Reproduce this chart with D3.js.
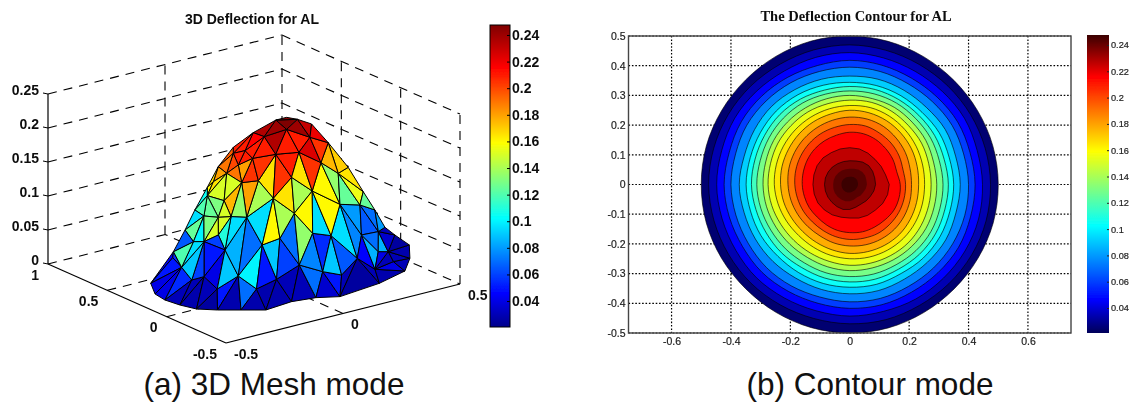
<!DOCTYPE html>
<html><head><meta charset="utf-8">
<script src="https://cdn.jsdelivr.net/npm/d3@7/dist/d3.min.js"></script>
<style>html,body{margin:0;padding:0;background:#fff;overflow:hidden}svg{display:block}</style>
</head><body><svg id="chart" width="1129" height="403"></svg>
<script>
// ---------- data ----------
const meshTitle = "3D Deflection for AL";
const contourTitle = "The Deflection Contour for AL";
const captionA = "(a) 3D Mesh mode";
const captionB = "(b) Contour mode";
const xTicks3d = [-0.5, 0, 0.5];
const yTicks3d = [-0.5, 0, 0.5, 1];
const zTicks3d = [0, 0.05, 0.1, 0.15, 0.2, 0.25];
const colorbarTicks = [0.04, 0.06, 0.08, 0.1, 0.12, 0.14, 0.16, 0.18, 0.2, 0.22, 0.24];
const contourXTicks = [-0.6, -0.4, -0.2, 0, 0.2, 0.4, 0.6];
const contourYTicks = [-0.5, -0.4, -0.3, -0.2, -0.1, 0, 0.1, 0.2, 0.3, 0.4, 0.5];
const colorDomain = [0.0205, 0.2475];

const meshNames = ["A0","A1","A2","A3","A4","A5","A6","A7","A8","A9","A10","A11","A12","A13",
 "B0","B1","E","B2","B3","B4","B5","B6","B7","B8","B9","B10","B11","B12",
 "C3","L13","L12","S1","C4","C5","C6","C7","V1","V2","V3","V4","R6","R5","R4","R3","R2","R1","R0",
 "T0","T1","T2","T3","T4","T5","T6","T7","T8","T9","L2","L1","S6","G","L3","L4","S5","L8","S4","L5","L6","L7","S3","S2",
 "L11","L10","P9","L14","M1","C2","C1","H1","H2","H3","H4","H5","H6","Ab"];
const meshX = [-.422,-.486,-.476,-.455,-.404,-.34,-.272,-.151,-.06,.012,.201,.346,.438,.518,
 -.33,-.365,-.415,-.361,-.401,-.264,-.294,-.18,-.03,-.007,.024,.169,.15,.247,
 -.349,-.355,-.384,-.5,-.217,-.128,-.008,.028,.115,.215,.294,.286,.519,.414,.305,.229,.181,.09,.055,
 .007,-.023,.04,-.025,-.074,-.089,.021,-.093,-.028,.031,-.102,-.109,-.114,-.108,-.104,-.145,-.169,-.17,-.169,-.12,-.174,-.189,-.238,-.283,
 -.25,-.219,-.18,-.254,-.194,-.104,-.088,-.014,.042,-.039,.161,.19,.222,-.476];
const meshY = [.288,.042,-.064,-.163,-.239,-.311,-.387,-.364,-.39,-.451,-.41,-.339,-.2,-.037,
 .284,.14,-.044,-.041,-.231,-.138,-.351,-.295,-.191,-.343,-.441,-.287,-.474,-.437,
 -.194,-.029,.003,-.057,-.247,-.221,-.26,-.344,-.429,-.373,-.301,-.234,.087,-.037,-.167,-.219,-.187,-.198,-.127,
 -.011,.02,-.038,-.074,.111,-.012,-.18,-.117,-.184,-.253,.124,.21,.2,.049,.177,.194,.218,.257,.31,.117,.159,.271,.279,.273,
 .179,.119,.088,.049,-.071,.008,-.086,-.094,-.158,-.167,-.157,-.085,-.205,.145];
const meshZ = [.02,.02,.02,.02,.02,.02,.02,.02,.02,.02,.02,.02,.02,.02,
 .05,.05,.05,.05,.05,.05,.05,.05,.05,.05,.05,.05,.05,.05,
 .1,.1,.1,.1,.1,.1,.1,.1,.1,.0625,.05,.075,.025,.055,.1,.1375,.175,.22,.245,
 .25,.24625,.24625,.24,.225,.23,.2325,.2125,.215,.2,.2,.19,.2,.195,.175,.165,.175,.15,.1375,.155,.13,.13,.1125,.0875,
 .1125,.1125,.1125,.095,.125,.165,.145,.17,.15,.125,.12,.1575,.1175,.02];
const meshFaces = ["A0 S1 B0","S1 B1 B0","A0 B0 B1","A0 B1 Ab","Ab B1 A1","A1 B1 E","A1 E A2","A2 E B2","A2 B2 A3","B2 B3 A3","B3 A4 A3",
 "B3 B4 A4","B4 A5 A4","B4 B5 A5","B5 A6 A5","B5 B6 A6","B6 A7 A6","B6 B7 A7","B7 A8 A7","B7 B8 A8","B8 A9 A8","B8 B9 A9",
 "B9 B10 A9","B10 A10 A9","B10 B11 A10","B11 A11 A10","B11 B12 A11","B12 A12 A11","V3 A12 B12","V3 A13 A12","V3 R6 A13","V3 B12 B11",
 "B2 C3 B3","B3 C3 B4","C3 M1 B4","M1 C4 B4","B4 C4 B5","B5 C4 B6","C4 C5 B6","C5 B7 B6","C5 H3 B7","H3 C6 B7","B7 C6 B8","C6 C7 B8",
 "C7 B9 B8","C7 B10 B9","C7 H4 B10","H4 V1 B10","B10 V1 B11","V1 V2 B11","V2 V3 B11","H6 V1 H4","H6 V4 V1","V1 V4 V2","V4 V3 V2",
 "V4 R6 V3","V4 R5 R6","H6 R4 V4","R4 R5 V4","M1 C1 C4","C1 C5 C4","C1 H3 C5","C1 H1 H3","H1 H2 H3","H3 H2 C6","H2 C7 C6","H2 H4 C7",
 "H2 T9 H4","T9 H5 H4","H5 H6 H4","H5 R3 H6","R3 R4 H6","R2 R3 H5","R1 R2 H5","T9 R1 H5","C2 T7 C1","T7 H1 C1","T7 T8 H1","T8 H2 H1",
 "T8 T9 H2","M1 C2 C1","L5 C2 M1","L5 G C2","L3 G L5","L2 G L3","G T7 C2","G T5 T7","L2 T5 G","T5 T3 T7","T3 T8 T7","T3 T6 T8","T6 T9 T8",
 "T6 R1 T9","T4 T1 T5","T1 T3 T5","T1 T2 T3","T1 T0 T2","T2 T6 T3","T2 R0 T6","R0 R1 T6","T4 T5 L2","T4 L2 L1","S6 T4 L1","S6 L1 S5",
 "L1 L2 L3","L1 L3 L4","L3 L5 L4","S5 L1 L4","S5 L4 L8","S4 S5 L8","S4 L8 L7","L8 L4 L7","L4 L6 L7","L4 L5 L6","L5 P9 L6","L5 M1 P9",
 "L7 L6 L10","L6 P9 L10","L7 L10 L11","S3 S4 L7","S3 L7 L11","S2 S3 L11","S2 L11 L12","L11 L13 L12","L11 L10 L13","L13 L10 L14","L10 P9 L14",
 "P9 M1 C3","P9 C3 L14","L14 C3 L13","L13 C3 B2","E L13 B2","B1 L13 E","B1 L12 L13","S1 L12 B1","S1 S2 L12"];
const meshFaceValues = [.045,.055,.05,.04,.04,.055,.03,.03,.028,.03,.025,
 .05,.028,.07,.028,.028,.028,.03,.03,.07,.035,.05,
 .03,.025,.03,.028,.04,.03,.03,.028,.025,.03,
 .04,.09,.085,.07,.1,.05,.09,.06,.07,.135,.075,.055,
 .09,.065,.095,.075,.045,.085,.04,.08,.065,.07,.085,
 .035,.03,.07,.08,.095,.16,.14,.165,.14,.16,.095,.16,
 .16,.135,.125,.155,.125,.165,.17,.175,.165,.205,.21,.165,
 .205,.14,.18,.205,.18,.21,.205,.21,.21,.235,.21,.21,.225,
 .205,.235,.24,.248,.245,.24,.23,.22,.215,.21,.21,.195,
 .21,.2,.19,.19,.18,.165,.16,.165,.15,.15,.175,.135,
 .13,.15,.125,.105,.12,.095,.125,.1,.13,.15,.15,
 .095,.11,.06,.05,.06,.09,.095,.12,.065];

const contourAngles = [0,15,30,45,60,75,90,105,120,135,150,165,180,195,210,225,240,255,270,285,300,315,330,345];
const contourLevels = [.0205,.028,.04,.0525,.065,.085,.0975,.11,.1225,.135,.1475,.16,.17,.185,.195,.21,.22,.232,.24,.245];
const contourRadii = [
 [.5,.499,.497,.496,.497,.499,.5,.5,.498,.497,.498,.5,.5,.5,.498,.496,.497,.499,.5,.5,.498,.497,.498,.5],
 [.474,.472,.47,.468,.467,.468,.47,.469,.468,.47,.472,.474,.475,.473,.471,.47,.468,.467,.469,.471,.47,.472,.474,.475],
 [.447,.444,.446,.442,.44,.441,.444,.443,.441,.444,.447,.446,.448,.445,.443,.444,.441,.44,.443,.442,.445,.446,.448,.449],
 [.422,.419,.42,.416,.414,.416,.418,.415,.417,.42,.422,.42,.423,.42,.417,.418,.415,.414,.417,.419,.418,.42,.423,.421],
 [.4,.397,.398,.394,.392,.394,.395,.394,.396,.398,.4,.398,.4,.397,.395,.396,.394,.392,.395,.397,.396,.398,.4,.401],
 [.372,.369,.371,.366,.366,.367,.365,.367,.369,.372,.37,.368,.372,.368,.367,.366,.364,.366,.368,.37,.368,.37,.373,.37],
 [.35,.347,.348,.344,.345,.345,.344,.346,.349,.35,.348,.347,.349,.346,.345,.342,.343,.345,.346,.348,.346,.35,.351,.349],
 [.332,.329,.33,.329,.33,.331,.33,.329,.332,.333,.331,.33,.331,.327,.325,.325,.323,.326,.328,.33,.329,.332,.333,.331],
 [.314,.312,.314,.314,.316,.316,.315,.315,.317,.316,.314,.312,.313,.31,.307,.306,.305,.308,.31,.312,.312,.315,.316,.314],
 [.293,.292,.296,.297,.3,.299,.3,.299,.298,.297,.296,.293,.292,.29,.287,.285,.284,.287,.29,.291,.293,.295,.296,.294],
 [.274,.275,.279,.28,.284,.286,.284,.282,.282,.28,.279,.276,.275,.272,.268,.266,.266,.268,.272,.274,.276,.278,.277,.275],
 [.252,.254,.258,.262,.266,.268,.266,.264,.262,.26,.258,.256,.254,.25,.246,.243,.244,.247,.25,.253,.255,.256,.255,.253],
 [.232,.235,.24,.244,.248,.25,.25,.246,.244,.241,.238,.236,.233,.23,.226,.224,.225,.228,.232,.234,.236,.237,.235,.233],
 [.208,.21,.216,.221,.226,.228,.227,.224,.221,.218,.215,.212,.208,.205,.202,.2,.2,.204,.207,.21,.212,.213,.212,.21],
 [.188,.186,.192,.197,.2,.204,.202,.199,.197,.194,.191,.188,.185,.182,.18,.178,.179,.182,.185,.187,.19,.19,.19,.189],
 [.17,.164,.168,.171,.175,.177,.176,.172,.17,.168,.165,.162,.16,.158,.157,.155,.157,.16,.162,.165,.166,.168,.172,.172],
 [.133,.125,.122,.12,.122,.124,.124,.124,.124,.127,.127,.125,.124,.124,.124,.121,.118,.114,.113,.117,.12,.122,.128,.132],
 [.087,.087,.089,.09,.087,.082,.08,.08,.081,.083,.084,.085,.085,.085,.085,.085,.086,.087,.084,.079,.076,.078,.08,.084],
 [.058,.058,.06,.06,.058,.055,.053,.053,.054,.055,.056,.056,.056,.057,.058,.058,.058,.058,.056,.053,.05,.052,.053,.056],
 [.028,.028,.029,.029,.028,.027,.026,.026,.027,.027,.028,.028,.028,.028,.028,.028,.028,.028,.027,.026,.025,.026,.026,.027]
];
const contourDrawnLines = 18; // the innermost two shades carry no contour line

// ---------- setup ----------
const svg = d3.select("#chart");
const defs = svg.append("defs");
const sans = "'Liberation Sans', Arial, sans-serif";
const serif = "'Liberation Serif', 'Times New Roman', serif";

const jetStops = [[0,"#00008a"],[.11,"#0000ff"],[.36,"#00ffff"],[.61,"#ffff00"],[.86,"#ff0000"],[1,"#7f0000"]];
const jetDarkStops = [[0,"#000058"],[.11,"#0000ff"],[.36,"#00ffff"],[.61,"#ffff00"],[.86,"#ff0000"],[1,"#3a0000"]];
const tOf = d3.scaleLinear().domain(colorDomain).range([0,1]);
const makeJet = st => {
  const s = d3.scaleLinear().domain(st.map(d=>d[0])).range(st.map(d=>d[1])).interpolate(d3.interpolateRgb).clamp(true);
  return v => s(tOf(v));
};
const jet = makeJet(jetStops), jetDark = makeJet(jetDarkStops);
const addGrad = (id, st) => {
  const g = defs.append("linearGradient").attr("id", id).attr("x1",0).attr("x2",0).attr("y1",1).attr("y2",0);
  st.forEach(d => g.append("stop").attr("offset", d[0]).attr("stop-color", d[1]));
};
addGrad("jetA", jetStops); addGrad("jetB", jetDarkStops);
const blur = (id, s) => defs.append("filter").attr("id", id).attr("x","-5%").attr("y","-5%").attr("width","110%").attr("height","110%")
  .append("feGaussianBlur").attr("stdDeviation", s);
blur("soft", 0.6); blur("softA", 0.25);

// ---------- left panel: 3D mesh ----------
const left = svg.append("g").attr("filter","url(#softA)");
const origin = {x:226, y:343};
const xToH = d3.scaleLinear([-.5,.5],[0,234]), xToV = d3.scaleLinear([-.5,.5],[0,-59]);
const yToH = d3.scaleLinear([-.5,1],[0,-178]), yToV = d3.scaleLinear([-.5,1],[0,-79]);
const zToV = d3.scaleLinear([0,.25],[0,-170]);
const project = (x,y,z) => [origin.x + xToH(x) + yToH(y), origin.y + xToV(x) + yToV(y) + zToV(z)];
const line3 = d3.line();
const dashLine = (a,b) => left.append("path").attr("d", line3([project(...a),project(...b)]))
  .attr("fill","none").attr("stroke","#000").attr("stroke-width",1.1).attr("stroke-dasharray","9,7");
const Xm=-.5,XM=.5,Ym=-.5,YM=1,Zm=0,ZM=.25;

zTicks3d.forEach(z => { dashLine([Xm,YM,z],[XM,YM,z]); dashLine([XM,YM,z],[XM,Ym,z]); });
dashLine([XM,YM,Zm],[XM,YM,ZM]);
dashLine([XM,Ym,Zm],[XM,Ym,ZM]);
xTicks3d.filter(x=>x>Xm&&x<XM).forEach(x => { dashLine([x,YM,Zm],[x,YM,ZM]); dashLine([x,Ym,Zm],[x,YM,Zm]); });
yTicks3d.filter(y=>y>Ym&&y<YM).forEach(y => { dashLine([XM,y,Zm],[XM,y,ZM]); dashLine([Xm,y,Zm],[XM,y,Zm]); });

const solid = (a,b) => left.append("path").attr("d", line3([project(...a),project(...b)]))
  .attr("fill","none").attr("stroke","#000").attr("stroke-width",1.2);
solid([Xm,YM,Zm],[Xm,YM,ZM]); solid([Xm,Ym,Zm],[Xm,YM,Zm]); solid([Xm,Ym,Zm],[XM,Ym,Zm]);

const vIndex = new Map(meshNames.map((n,i)=>[n,i]));
const vPoint = n => { const i = vIndex.get(n); return project(meshX[i],meshY[i],meshZ[i]); };
left.append("g").selectAll("path").data(meshFaces).join("path")
  .attr("d", f => line3(f.split(" ").map(vPoint)) + "Z")
  .attr("fill", (f,i) => jet(meshFaceValues[i]))
  .attr("stroke","#000").attr("stroke-width",1).attr("stroke-linejoin","round");

const label3 = (t,p,dx,dy,anchor) => left.append("text").attr("x",p[0]+dx).attr("y",p[1]+dy)
  .attr("text-anchor",anchor).attr("dominant-baseline","middle")
  .attr("font-family",sans).attr("font-weight","bold").attr("font-size",14).attr("fill","#111").text(t);
const tick3 = (a,dx,dy) => { const p = project(...a);
  left.append("line").attr("x1",p[0]).attr("y1",p[1]).attr("x2",p[0]+dx).attr("y2",p[1]+dy).attr("stroke","#000").attr("stroke-width",1); };
zTicks3d.forEach(z => { label3(String(z), project(Xm,YM,z), -9, -3, "end"); tick3([Xm,YM,z],-5,-1); });
xTicks3d.forEach(x => label3(String(x), project(x,Ym,Zm), 8, 12, "start"));
yTicks3d.forEach(y => label3(String(y), project(Xm,y,Zm), -9, 12, "end"));
left.append("text").attr("x",252).attr("y",24).attr("text-anchor","middle").attr("font-family",sans)
  .attr("font-weight","bold").attr("font-size",14).attr("fill","#111").text(meshTitle);

const cbA = d3.scaleLinear().domain(colorDomain).range([327,25]);
left.append("rect").attr("x",490).attr("y",25).attr("width",20).attr("height",302).attr("fill","url(#jetA)").attr("stroke","#000");
const axA = left.append("g").attr("transform","translate(510,0)")
  .call(d3.axisRight(cbA).tickValues(colorbarTicks).tickFormat(String).tickSize(-3).tickPadding(2));
axA.select(".domain").remove();
axA.selectAll("text").attr("font-family",sans).attr("font-weight","bold").attr("font-size",14).attr("fill","#111");
axA.selectAll("line").attr("stroke","#000");

// ---------- right panel: contour ----------
const right = svg.append("g").attr("filter","url(#soft)");
const cx = d3.scaleLinear().domain([-.745,.745]).range([628.5,1071]);
const cy = d3.scaleLinear().domain([-.5,.5]).range([333,36]);
const gridStyle = s => s.attr("stroke","#000").attr("stroke-width",1.2).attr("stroke-dasharray","1.6,1.8");
right.append("rect").attr("x",628.5).attr("y",36).attr("width",442.5).attr("height",297).attr("fill","#fff");
right.append("g").selectAll("line").data(contourXTicks).join("line")
  .attr("x1",d=>cx(d)).attr("x2",d=>cx(d)).attr("y1",36).attr("y2",333).call(gridStyle);
right.append("g").selectAll("line").data(contourYTicks).join("line")
  .attr("x1",628.5).attr("x2",1071).attr("y1",d=>cy(d)).attr("y2",d=>cy(d)).call(gridStyle);

const rScale = d3.scaleLinear().domain([0,.5]).range([0,148.5]);
const ringSmooth = d3.lineRadial().curve(d3.curveCatmullRomClosed.alpha(.5));
const ringSharp = d3.lineRadial().curve(d3.curveLinearClosed);
const bands = right.append("g").attr("transform",`translate(${cx(0)},${cy(0)})`);
bands.selectAll("path").data(contourRadii).join("path")
  .attr("d", (row,k) => (k < 16 ? ringSmooth : ringSharp)(row.map((r,i)=>[(90 - contourAngles[i]) * Math.PI/180, rScale(r)])))
  .attr("fill", (row,i) => jetDark(i < contourLevels.length-1 ? (contourLevels[i]+contourLevels[i+1])/2 : colorDomain[1]))
  .attr("stroke", (row,i) => i < contourDrawnLines ? "#000" : "none")
  .attr("stroke-opacity", .6).attr("stroke-width",1);

right.append("rect").attr("x",628.5).attr("y",36).attr("width",442.5).attr("height",297)
  .attr("fill","none").attr("stroke","#444").attr("stroke-width",1.4);
const styleAxis = (g,fs) => { g.select(".domain").remove();
  g.selectAll("text").attr("font-family",sans).attr("font-size",fs).attr("fill","#222").attr("stroke","#222").attr("stroke-width",.2);
  g.selectAll("line").attr("stroke","#222"); };
right.append("g").attr("transform","translate(628.5,0)")
  .call(d3.axisLeft(cy).tickValues(contourYTicks).tickFormat(String).tickSize(0).tickPadding(3)).call(styleAxis,10.5);
right.append("g").attr("transform","translate(0,333)")
  .call(d3.axisBottom(cx).tickValues(contourXTicks).tickFormat(String).tickSize(0).tickPadding(5)).call(styleAxis,10.5);
right.append("text").attr("x",856).attr("y",21).attr("text-anchor","middle").attr("font-family",serif)
  .attr("font-weight","bold").attr("font-size",14.5).attr("fill","#111").text(contourTitle);

const cbB = d3.scaleLinear().domain([.04,.24]).range([308,45]);
right.append("rect").attr("x",1087).attr("y",35).attr("width",22).attr("height",298).attr("fill","url(#jetB)");
right.append("g").attr("transform","translate(1109,0)")
  .call(d3.axisRight(cbB).tickValues(colorbarTicks).tickFormat(String).tickSize(-2).tickPadding(2)).call(styleAxis,9.2);

// ---------- captions ----------
svg.append("text").attr("x",274).attr("y",395).attr("text-anchor","middle").attr("font-family",sans)
  .attr("font-size",31.5).attr("fill","#111").text(captionA);
svg.append("text").attr("x",870).attr("y",395).attr("text-anchor","middle").attr("font-family",sans)
  .attr("font-size",31.5).attr("fill","#111").text(captionB);
</script></body></html>
